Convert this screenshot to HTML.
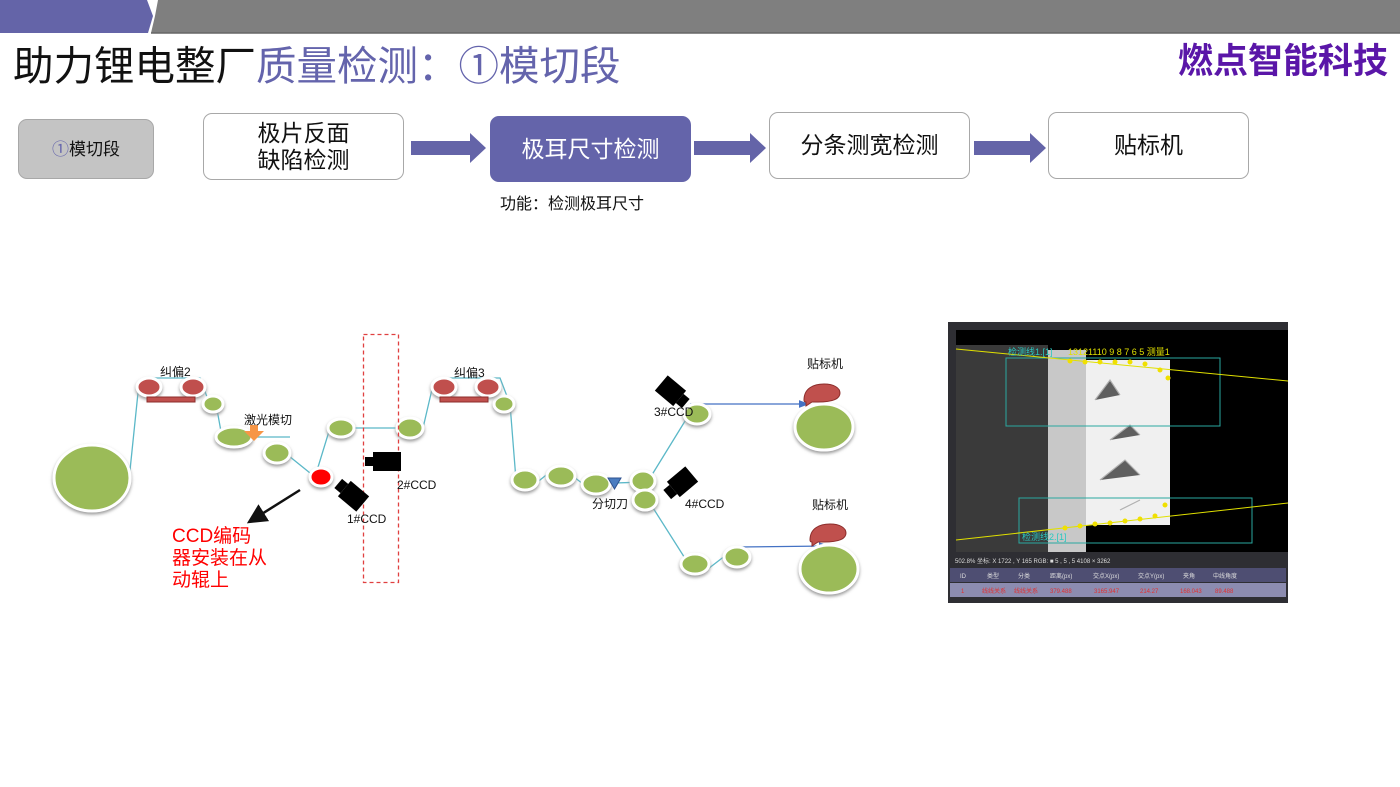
<!DOCTYPE html>
<html><head><meta charset="utf-8"><style>
body{margin:0;width:1400px;height:787px;background:#fff;position:relative;overflow:hidden;font-family:"Liberation Sans","Noto Sans CJK SC",sans-serif}
.a{position:absolute}
.box{position:absolute;box-sizing:border-box;border:1px solid #a8a8a8;border-radius:9px;background:#fff;display:flex;align-items:center;justify-content:center;text-align:center;font-size:23px;line-height:27px;color:#111}
</style></head><body>
<svg class="a" style="left:0;top:0" width="1400" height="34">
<polygon points="0,0 147,0 153,16 148,33 0,33" fill="#6464a8"/>
<polygon points="158,0 1400,0 1400,33 151,33 155,16" fill="#7f7f7f"/>
<line x1="151" y1="33" x2="1400" y2="33" stroke="#666" stroke-width="1.5"/>
</svg>
<div class="a" style="left:13px;top:40px;font-size:40.5px;line-height:52px;white-space:nowrap"><span style="color:#111">助力锂电整厂</span><span style="color:#6464ac">质量检测：①模切段</span></div>
<div class="a" style="right:12px;top:40px;font-size:35px;line-height:44px;font-weight:bold;color:#5a16a8;white-space:nowrap">燃点智能科技</div>

<div class="box" style="left:18px;top:119px;width:136px;height:60px;background:#c4c4c4;font-size:17px"><span><span style="color:#6464ac">①</span>模切段</span></div>
<div class="box" style="left:203px;top:113px;width:201px;height:67px">极片反面<br>缺陷检测</div>
<div class="box" style="left:490px;top:116px;width:201px;height:66px;background:#6464aa;border-color:#6464aa;color:#fff">极耳尺寸检测</div>
<div class="box" style="left:769px;top:112px;width:201px;height:67px">分条测宽检测</div>
<div class="box" style="left:1048px;top:112px;width:201px;height:67px">贴标机</div>
<svg class="a" style="left:0;top:0" width="1400" height="200">
<g fill="#6464a8">
<polygon points="411,141 470,141 470,133 486,148 470,163 470,155 411,155"/>
<polygon points="694,141 750,141 750,133 766,148 750,163 750,155 694,155"/>
<polygon points="974,141 1030,141 1030,133 1046,148 1030,163 1030,155 974,155"/>
</g></svg>
<div class="a" style="left:500px;top:190px;font-size:16px;color:#111">功能：检测极耳尺寸</div>

<svg class="a" style="left:0;top:0" width="1400" height="787" font-family="Liberation Sans,Noto Sans CJK SC,sans-serif">
<defs>
<filter id="s" x="-20%" y="-20%" width="140%" height="150%"><feDropShadow dx="0" dy="2" stdDeviation="1.5" flood-color="#999"/></filter>
<marker id="ar" markerWidth="8" markerHeight="8" refX="7" refY="4" orient="auto"><path d="M0,1 L8,4 L0,7z" fill="#4472c4"/></marker>
<marker id="ak" markerWidth="8" markerHeight="8" refX="7" refY="4" orient="auto"><path d="M0,0 L8,4 L0,8z" fill="#111"/></marker>
</defs>
<g stroke="#5bb8c8" stroke-width="1.3" fill="none">
<polyline points="129,480 139,383 149,378 200,378 207,397 216,404 222,437 290,437"/>
<polyline points="284,452 315,477 330,428 423,428 433,385 444,378 500,378 510,404 516,480"/>
<polyline points="530,488 550,472 565,470 583,484 645,482"/>
<polyline points="650,478 690,413"/>
<polyline points="648,500 688,563"/>
<polyline points="704,572 730,552"/>
</g>
<line x1="690" y1="404" x2="808" y2="404" stroke="#4472c4" stroke-width="1.3" marker-end="url(#ar)"/>
<line x1="737" y1="547" x2="828" y2="546" stroke="#4472c4" stroke-width="1.3" marker-end="url(#ar)"/>
<g fill="#9bbb59" stroke="#fff" stroke-width="3" filter="url(#s)">
<ellipse cx="92" cy="478" rx="38" ry="33"/>
<ellipse cx="213" cy="404" rx="10" ry="8"/>
<ellipse cx="234" cy="437" rx="18" ry="10"/>
<ellipse cx="277" cy="453" rx="13" ry="10"/>
<ellipse cx="341" cy="428" rx="13" ry="9"/>
<ellipse cx="410" cy="428" rx="13" ry="10"/>
<ellipse cx="504" cy="404" rx="10" ry="8"/>
<ellipse cx="525" cy="480" rx="13" ry="10"/>
<ellipse cx="561" cy="476" rx="14" ry="10"/>
<ellipse cx="596" cy="484" rx="14" ry="10"/>
<ellipse cx="643" cy="481" rx="12" ry="10"/>
<ellipse cx="645" cy="500" rx="12" ry="10"/>
<ellipse cx="697" cy="414" rx="13" ry="10"/>
<ellipse cx="824" cy="427" rx="29" ry="23"/>
<ellipse cx="695" cy="564" rx="14" ry="10"/>
<ellipse cx="737" cy="557" rx="13" ry="10"/>
<ellipse cx="829" cy="569" rx="29" ry="24"/>
</g>
<g fill="#c0504d" stroke="#fff" stroke-width="3" filter="url(#s)">
<ellipse cx="149" cy="387" rx="12" ry="9"/><ellipse cx="193" cy="387" rx="12" ry="9"/>
<ellipse cx="444" cy="387" rx="12" ry="9"/><ellipse cx="488" cy="387" rx="12" ry="9"/>
<ellipse cx="321" cy="477" rx="11" ry="9" fill="#f00"/>
</g>
<rect x="147" y="397" width="48" height="5" fill="#c0504d" stroke="#8c2d2b"/>
<rect x="440" y="397" width="48" height="5" fill="#c0504d" stroke="#8c2d2b"/>
<path d="M250,425 h8 v6 h6 l-10,10 l-10,-10 h6z" fill="#f79646"/>
<path d="M608,478 h13 l-6.5,11z" fill="#4a7cc0" stroke="#2f528f"/>
<path d="M804,400 c0,-12 10,-16 20,-16 c10,0 16,4 16,9 c0,7 -10,9 -22,9 l-6,0 l-6,4 l0,-4 c-2,0 -2,-1 -2,-2z" fill="#c0504d" stroke="#8c2d2b"/>
<path d="M810,540 c0,-12 10,-16 20,-16 c10,0 16,4 16,9 c0,7 -10,9 -22,9 l-6,0 l-6,4 l0,-4 c-2,0 -2,-1 -2,-2z" fill="#c0504d" stroke="#8c2d2b"/>
<rect x="363.5" y="334.5" width="35" height="248" fill="none" stroke="#e04040" stroke-width="1.3" stroke-dasharray="4,3"/>
<g fill="#000">
<rect x="373" y="452" width="28" height="19"/><rect x="365" y="457" width="8" height="9"/>
<g transform="translate(352,495) rotate(40)"><rect x="-10" y="-10" width="24" height="20"/><rect x="-18" y="-6" width="8" height="12"/></g>
<g transform="translate(672,392) rotate(40)"><rect x="-14" y="-10" width="24" height="20"/><rect x="10" y="-6" width="8" height="12"/></g>
<g transform="translate(681,483) rotate(-40)"><rect x="-10" y="-10" width="24" height="20"/><rect x="-18" y="-6" width="8" height="12"/></g>
</g>
<line x1="300" y1="490" x2="249" y2="522" stroke="#111" stroke-width="2.5" marker-end="url(#ak)"/>
<g font-size="12" fill="#111">
<text x="160" y="376">纠偏2</text><text x="454" y="377">纠偏3</text>
<text x="244" y="424">激光模切</text>
<text x="347" y="523">1#CCD</text><text x="397" y="489">2#CCD</text>
<text x="654" y="416">3#CCD</text><text x="685" y="508">4#CCD</text>
<text x="592" y="508">分切刀</text>
<text x="807" y="368">贴标机</text><text x="812" y="509">贴标机</text>
</g>
<g font-size="19" fill="#f00"><text x="172" y="542">CCD编码</text><text x="172" y="564">器安装在从</text><text x="172" y="586">动辊上</text></g>

<rect x="948" y="322" width="340" height="281" fill="#2e2e33"/>
<rect x="956" y="330" width="332" height="222" fill="#000"/>
<rect x="956" y="345" width="92" height="207" fill="#3a3a3a"/>
<rect x="1048" y="350" width="38" height="202" fill="#c8c8c8"/>
<rect x="1086" y="360" width="84" height="165" fill="#f0f0f0"/>
<g stroke="#888" stroke-width="1.2" opacity=".6"><path d="M1095,400 l15,-20 l10,15 M1110,440 l20,-15 l10,10 M1100,480 l25,-20 l15,15 M1120,510 l20,-10"/></g>
<rect x="1006" y="358" width="214" height="68" fill="none" stroke="#2aa8a0" stroke-width="1"/>
<rect x="1019" y="498" width="233" height="45" fill="none" stroke="#2aa8a0" stroke-width="1"/>
<line x1="956" y1="349" x2="1288" y2="381" stroke="#e0e000" stroke-width="1"/>
<line x1="956" y1="540" x2="1288" y2="503" stroke="#e0e000" stroke-width="1"/>
<g fill="#f0e000"><circle cx="1070" cy="361" r="2.5"/><circle cx="1085" cy="362" r="2.5"/><circle cx="1100" cy="362" r="2.5"/><circle cx="1115" cy="362" r="2.5"/><circle cx="1130" cy="362" r="2.5"/><circle cx="1145" cy="364" r="2.5"/><circle cx="1160" cy="370" r="2.5"/><circle cx="1168" cy="378" r="2.5"/>
<circle cx="1065" cy="528" r="2.5"/><circle cx="1080" cy="526" r="2.5"/><circle cx="1095" cy="524" r="2.5"/><circle cx="1110" cy="523" r="2.5"/><circle cx="1125" cy="521" r="2.5"/><circle cx="1140" cy="519" r="2.5"/><circle cx="1155" cy="516" r="2.5"/><circle cx="1165" cy="505" r="2.5"/></g>
<text x="1008" y="355" font-size="9" fill="#2ac8c0">检测线1.[1]</text>
<text x="1022" y="540" font-size="9" fill="#2ac8c0">检测线2.[1]</text>
<text x="1068" y="355" font-size="9" fill="#e0e000">13121110 9 8 7 6 5 测量1</text>
<rect x="948" y="552" width="340" height="15" fill="#2e2e33"/>
<text x="955" y="563" font-size="6" fill="#ddd">502.8%  坐标: X 1722 , Y 165            RGB: ■ 5 , 5 , 5          4108 × 3262</text>
<rect x="950" y="568" width="336" height="14" fill="#4e4e72"/>
<rect x="950" y="583" width="336" height="14" fill="#8c8cb0"/>
<g font-size="6" fill="#ddd"><text x="960" y="578">ID</text><text x="987" y="578">类型</text><text x="1018" y="578">分类</text><text x="1050" y="578">距离(px)</text><text x="1093" y="578">交点X(px)</text><text x="1138" y="578">交点Y(px)</text><text x="1183" y="578">夹角</text><text x="1213" y="578">中线角度</text></g>
<g font-size="6" fill="#e03030"><text x="961" y="593">1</text><text x="982" y="593">线线关系</text><text x="1014" y="593">线线关系</text><text x="1050" y="593">379.488</text><text x="1094" y="593">3165.947</text><text x="1140" y="593">214.27</text><text x="1180" y="593">168.043</text><text x="1215" y="593">89.488</text></g>
</svg>
</body></html>
